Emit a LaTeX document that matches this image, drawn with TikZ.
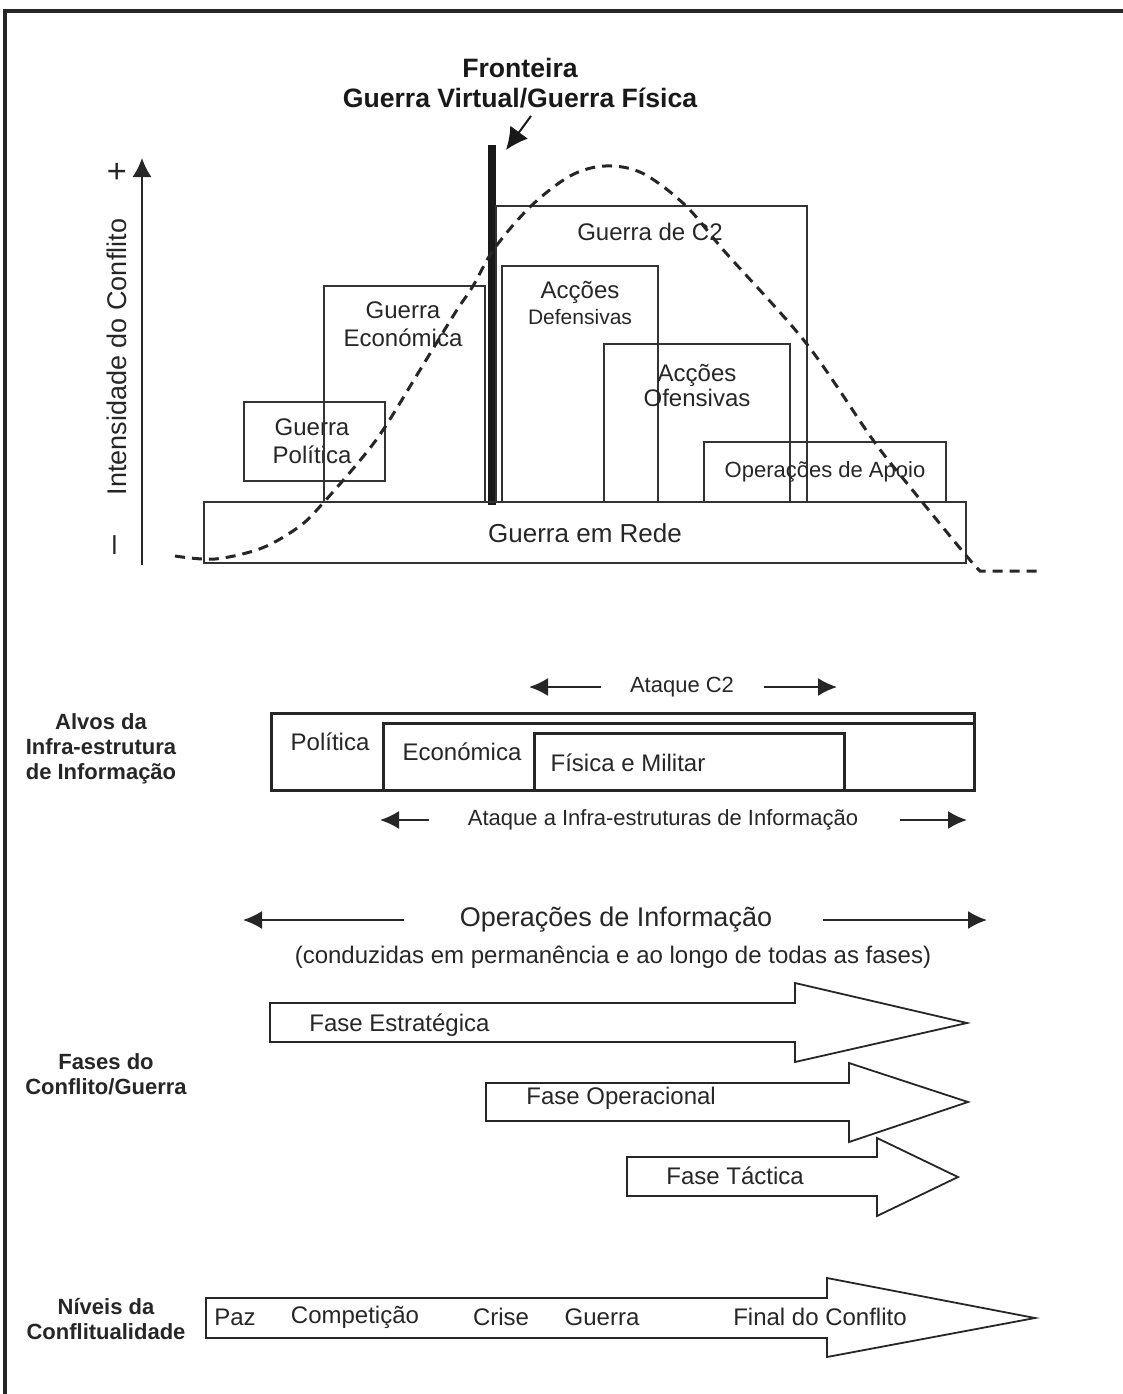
\documentclass[tikz,border=0pt]{standalone}
\usepackage{fontspec}
\setmainfont{Liberation Sans}
\usetikzlibrary{arrows.meta}
\tikzset{
  box/.style={draw=black!80, line width=0.75pt},
  tbox/.style={draw=black!85, line width=1.5pt},
  lbl/.style={font=\fontsize{12}{14}\selectfont, text=black!85, inner sep=0pt, align=center},
  sml/.style={font=\fontsize{11}{13}\selectfont, text=black!85, inner sep=0pt, align=center},
  big/.style={font=\fontsize{13.5}{15}\selectfont, text=black!85, inner sep=0pt, align=center},
  head/.style={font=\bfseries\fontsize{11}{12.5}\selectfont, text=black!85, inner sep=0pt, align=center},
  ttl/.style={font=\bfseries\fontsize{13.3}{15}\selectfont, text=black!90, inner sep=0pt},
  arr/.style={-{Latex[length=9.5pt,width=9pt]}, line width=1pt, black!85},
  curve/.style={line width=1.5pt, black!85, dash pattern=on 5pt off 3.5pt},
  blockarrow/.style={draw=black!85, line width=0.9pt, line join=miter},
}
\begin{document}
\begin{tikzpicture}[x=0.5pt, y=-0.5pt]
  \useasboundingbox (0,0) rectangle (1123,1394);
  % Frame
  \draw[line width=1.6pt, black!85] (5,1394) -- (5,11) -- (1123,11);

  % --- Title and border line ---
  \node[ttl] (fronteira) at (520,68) {Fronteira};
  \node[ttl] (virtual) at (520,98) {Guerra Virtual/Guerra Física};
  \coordinate (barTop) at (492,145);
  \coordinate (barBot) at (492,505);
  \coordinate (arrTail) at (531,116);
  \coordinate (arrTip) at (506,150);
  \draw[line width=3.7pt, black!90] (barTop) -- (barBot);
  \draw[-{Latex[length=11pt,width=11pt]}, line width=1pt, black!90] (arrTail) -- (arrTip);

  % Axis
  \coordinate (axBot) at (142,565);
  \coordinate (axTop) at (142,158);
  \draw[-{Latex[length=9.5pt,width=9.5pt]}, line width=0.8pt, black!85] (axBot) -- (axTop);
  \node[big, rotate=90] (intens) at (117,357) {Intensidade do Conflito};
  \node[big, rotate=90, font=\fontsize{17}{19}\selectfont] (plus) at (119,172) {+};
  \node[big, rotate=90, font=\fontsize{17}{19}\selectfont] (minus) at (119,545) {–};

  % Boxes
  \draw[box] (204,502) rectangle (966,563);
  \node[lbl, font=\fontsize{13}{15}\selectfont] (rede) at (585,533) {Guerra em Rede};
  \draw[box] (244,402) rectangle (385,481);
  \node[lbl] (gpol) at (312,441) {Guerra\\Política};
  \draw[box] (324,286) rectangle (485,502);
  \node[lbl] (geco) at (403,324) {Guerra\\Económica};
  \draw[box] (496,206) rectangle (807,502);
  \node[lbl] (gc2) at (650,232) {Guerra de C2};
  \draw[box] (502,266) rectangle (658,502);
  \node[lbl] (acdef) at (580,292) {Acções};
  \node[lbl, font=\fontsize{10.5}{12}\selectfont] (def) at (580,317) {Defensivas};
  \draw[box] (604,344) rectangle (790,502);
  \node[lbl, font=\fontsize{12}{12.5}\selectfont] (acof) at (697,385) {Acções\\Ofensivas};
  \draw[box] (704,442) rectangle (946,502);
  \node[sml] (apoio) at (825,472) {Operações de Apoio};

  % Intensity curve
  \draw[curve] plot[smooth, tension=0.55] coordinates {(175,556) (215,559) (262,548) (300,526) (324,502)
    (362,458) (385,427) (420,370) (455,313) (473,286) (494,249) (530,207) (570,176) (605,166)
    (642,173) (685,205) (726,253) (806,343) (873,440) (910,487) (964,553) (980,571)}
    -- (1038,571);

  % --- Alvos da Infra-estrutura ---
  \node[sml] (atc2) at (682,687) {Ataque C2};
  \coordinate (c2L) at (529,687);
  \coordinate (c2R) at (837,687);
  \draw[arr] ([xshift=-14.5pt]atc2.west) -- (c2L);
  \draw[arr] ([xshift=15pt]atc2.east) -- (c2R);

  \node[head] (alvos) at (101,749) {Alvos da\\Infra-estrutura\\de Informação};
  \draw[tbox] (271,713) rectangle (974,790);
  \draw[tbox] (383,723) rectangle (974,790);
  \draw[tbox] (534,733) rectangle (844,790);
  \node[lbl] (pol) at (330,742) {Política};
  \node[lbl] (eco) at (462,752) {Económica};
  \node[lbl] (fis) at (628,763) {Física e Militar};

  \node[sml] (atinf) at (663,820) {Ataque a Infra-estruturas de Informação};
  \coordinate (infL) at (380,820);
  \coordinate (infR) at (967,820);
  \draw[arr] ([xshift=-19.5pt]atinf.west) -- (infL);
  \draw[arr] ([xshift=21pt]atinf.east) -- (infR);

  % --- Operacoes de Informacao ---
  \node[big] (opinf) at (616,920) {Operações de Informação};
  \node[lbl] (cond) at (613,957) {(conduzidas em permanência e ao longo de todas as fases)};
  \coordinate (opL) at (243,920);
  \coordinate (opR) at (987,920);
  \draw[arr] ([xshift=-28pt]opinf.west) -- (opL);
  \draw[arr] ([xshift=25.5pt]opinf.east) -- (opR);

  % --- Fases do Conflito ---
  \node[head] (fases) at (106,1074) {Fases do\\Conflito/Guerra};
  \draw[blockarrow] (270,1003) -- (795,1003) -- (795,983) -- (967,1023) -- (795,1062) -- (795,1042) -- (270,1042) -- cycle;
  \node[lbl, anchor=west] (fest) at (309,1025) {Fase Estratégica};
  \draw[blockarrow] (486,1083) -- (849,1083) -- (849,1063) -- (968,1102) -- (849,1142) -- (849,1121) -- (486,1121) -- cycle;
  \node[lbl, anchor=west] (fop) at (526,1098) {Fase Operacional};
  \draw[blockarrow] (627,1157) -- (877,1157) -- (877,1138) -- (958,1177) -- (877,1216) -- (877,1196) -- (627,1196) -- cycle;
  \node[lbl, anchor=west] (ftac) at (666,1176) {Fase Táctica};

  % --- Niveis da Conflitualidade ---
  \node[head] (niveis) at (106,1319) {Níveis da\\Conflitualidade};
  \draw[blockarrow] (206,1298) -- (827,1298) -- (827,1278) -- (1035,1318) -- (827,1357) -- (827,1338) -- (206,1338) -- cycle;
  \node[lbl] (paz) at (235,1317) {Paz};
  \node[lbl] (comp) at (355,1317) {Competição};
  \node[lbl] (crise) at (501,1317) {Crise};
  \node[lbl] (guerra) at (602,1317) {Guerra};
  \node[lbl] (final) at (820,1317) {Final do Conflito};
\end{tikzpicture}
\end{document}
